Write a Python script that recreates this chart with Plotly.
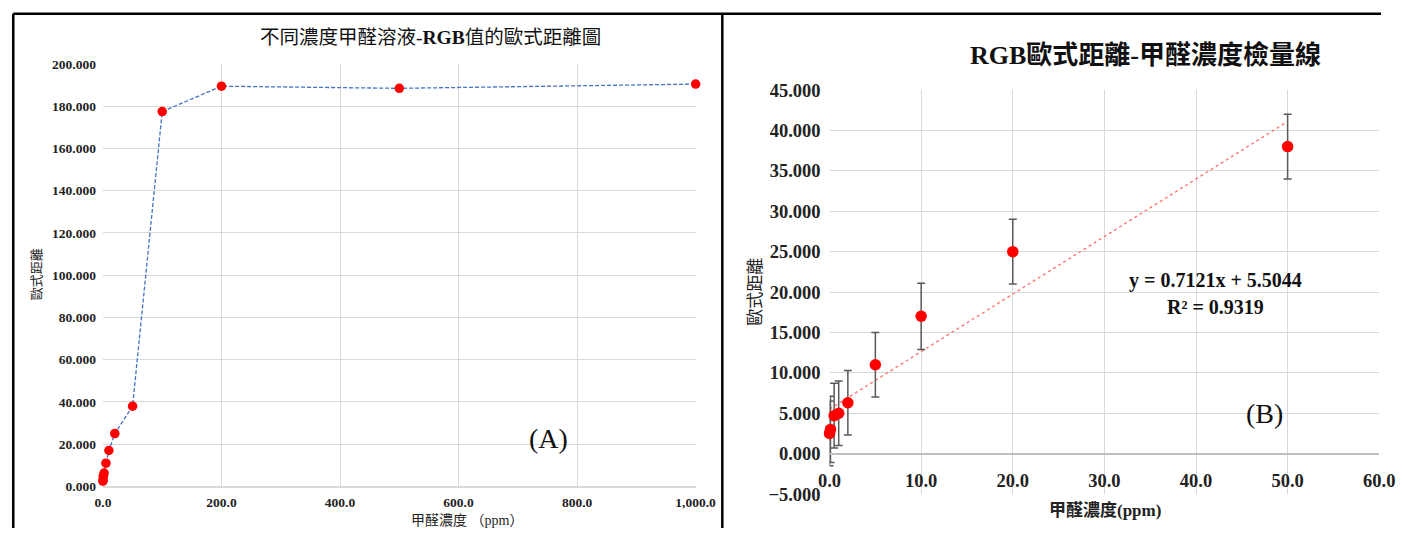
import plotly.graph_objects as go
import numpy as np

# ---- data ----
conc_low = [0, 0.1, 0.5, 1, 2, 5, 10, 20, 50]
dist_low = [2.5, 3.0, 4.7, 5.0, 6.3, 11.0, 17.0, 25.0, 38.0]
err_low = [4.0, 4.1, 4.0, 4.0, 4.0, 4.0, 4.1, 4.0, 4.0]
conc_high = [100, 200, 500, 1000]
dist_high = [177.5, 189.5, 188.5, 190.5]
conc_all = conc_low + conc_high
dist_all = dist_low + dist_high

fit_slope = 0.7121
fit_intercept = 5.5044
fit_r2 = 0.9319

left_title = "不同濃度甲醛溶液-<b>RGB</b>值的歐式距離圖"
right_title = "<b>RGB歐式距離-甲醛濃度檢量線</b>"
y_title = "歐式距離"
x_title_left = "甲醛濃度 （ppm）"
x_title_right = "<b>甲醛濃度(ppm)</b>"

W, H = 1402, 538
# map target screen positions to figure paper fractions (page offset/scale compensation)
SX, BX, SY, BY = 0.977, 11.0, 0.962, 10.0
def px(x): return ((x - BX) / SX) / W
def py(y): return (H - (y - BY) / SY) / H

SERIF = "Liberation Serif, Noto Sans CJK TC"
GRID = "#D9D9D9"

fig = go.Figure()

# left chart
fig.add_trace(go.Scatter(
    x=conc_all, y=dist_all, mode="lines+markers",
    line=dict(color="#4472C4", width=1.3, dash="4px,2px"),
    marker=dict(color="#FF0000", size=9.5),
    xaxis="x", yaxis="y", showlegend=False, cliponaxis=False))

# right chart: trendline
xfit = np.array([min(conc_low), max(conc_low)])
fig.add_trace(go.Scatter(
    x=xfit, y=fit_slope * xfit + fit_intercept, mode="lines",
    line=dict(color="#FF6F6F", width=1.3, dash="dot"),
    xaxis="x2", yaxis="y2", showlegend=False))
fig.add_trace(go.Scatter(
    x=conc_low, y=dist_low, mode="markers",
    marker=dict(color="#FF0000", size=11.5),
    error_y=dict(type="data", array=err_low, color="#595959", thickness=1.5, width=4),
    xaxis="x2", yaxis="y2", showlegend=False, cliponaxis=False))

tick_left = dict(family=SERIF, size=13.5, color="#222", weight="bold")
tick_right = dict(family=SERIF, size=18.5, color="#222", weight="bold")

fig.update_layout(
    width=W, height=H,
    margin=dict(l=0, r=0, t=0, b=0),
    paper_bgcolor="white", plot_bgcolor="white",
    xaxis=dict(domain=[px(102), px(695)], range=[0, 1000], dtick=200,
               tickformat=",.1f", showgrid=True, gridcolor=GRID, gridwidth=1,
               zeroline=False, showline=True, linecolor=GRID, linewidth=1.5,
               tickfont=tick_left, ticks="", ticklabelstandoff=3, anchor="y"),
    yaxis=dict(domain=[py(486), py(64)], range=[0, 200], dtick=20,
               tickformat=",.3f", showgrid=True, gridcolor=GRID, gridwidth=1,
               zeroline=False, showline=False, tickfont=tick_left, ticks="",
               ticklabelstandoff=6, anchor="x"),
    xaxis2=dict(domain=[px(829), px(1379)], range=[0, 60], dtick=10,
                tickformat=".1f", showgrid=True, gridcolor=GRID, gridwidth=1,
                zeroline=False, showline=True, linecolor="#BFBFBF", linewidth=1.5,
                tickfont=tick_right, ticks="", anchor="free",
                ticklabelstandoff=10, position=py(453.3)),
    yaxis2=dict(domain=[py(493.6), py(90)], range=[-5, 45], dtick=5,
                tickformat=".3f", showgrid=True, gridcolor=GRID, gridwidth=1,
                zeroline=False, showline=False, tickfont=tick_right, ticks="",
                ticklabelstandoff=8, anchor="x2"),
)

ann = [
    dict(text=left_title, x=px(430), y=py(37), font=dict(family=SERIF, size=19.5, color="#111")),
    dict(text=right_title, x=px(1145), y=py(55), font=dict(family=SERIF, size=26, color="#111")),
    dict(text=y_title, x=px(35), y=py(274), textangle=-90, font=dict(family=SERIF, size=13, color="#222")),
    dict(text=x_title_left, x=px(466), y=py(520), font=dict(family=SERIF, size=14, color="#222")),
    dict(text=y_title, x=px(755), y=py(292), textangle=-90, font=dict(family=SERIF, size=17, color="#222")),
    dict(text=x_title_right, x=px(1105), y=py(510), font=dict(family=SERIF, size=17, color="#222")),
    dict(text="(A)", x=px(548), y=py(438), font=dict(family=SERIF, size=28, color="#111")),
    dict(text="(B)", x=px(1264), y=py(413), font=dict(family=SERIF, size=28, color="#111")),
    dict(text=f"<b>y = {fit_slope}x + {fit_intercept}</b>", x=px(1215), y=py(280),
         font=dict(family=SERIF, size=20, color="#111")),
    dict(text=f"<b>R² = {fit_r2}</b>", x=px(1215), y=py(307),
         font=dict(family=SERIF, size=20, color="#111")),
]
for a in ann:
    a.update(xref="paper", yref="paper", showarrow=False, xanchor="center", yanchor="middle")
fig.update_layout(annotations=ann)

# panel frame lines
top = py(13.8)
lx = 1.3 / W
fig.update_layout(shapes=[
    dict(type="line", xref="paper", yref="paper", x0=lx, x1=1, y0=top, y1=top,
         line=dict(color="black", width=2.5)),
    dict(type="line", xref="paper", yref="paper", x0=lx, x1=lx, y0=0, y1=top,
         line=dict(color="black", width=2.5)),
    dict(type="line", xref="paper", yref="paper", x0=px(721.7), x1=px(721.7), y0=0, y1=top,
         line=dict(color="black", width=2.5)),
])

fig.write_html("out.html")
